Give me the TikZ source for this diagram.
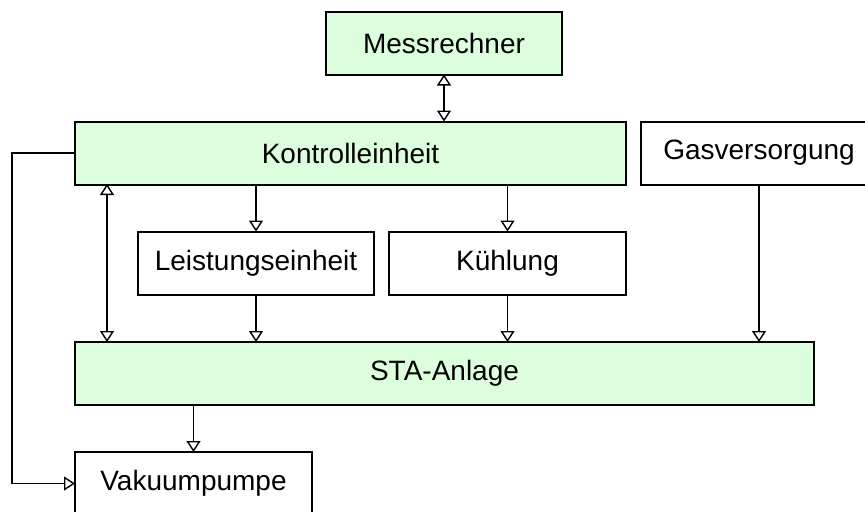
\documentclass[tikz,border=0pt]{standalone}
\usepackage{fontspec}
\setmainfont{Liberation Sans}
\usetikzlibrary{arrows.meta}
\definecolor{boxgreen}{RGB}{221,254,221}
\begin{document}
\begin{tikzpicture}[x=0.5pt, y=-0.5pt,
  block/.style={draw, line width=1pt, inner sep=0pt, outer sep=0pt, minimum height=31.5pt, font=\fontsize{14}{16.8}\selectfont},
  greenblock/.style={block, fill=boxgreen},
  link/.style={line width=0.7pt, -{Triangle[open, length=5.5pt, width=7pt]}},
  duallink/.style={line width=0.7pt, {Triangle[open, length=5.5pt, width=7pt]}-{Triangle[open, length=5.5pt, width=7pt]}}]%
\useasboundingbox (0, 0) rectangle (865, 511);%
\node[greenblock, minimum width=118pt] (mess) at (444, 43) {Messrechner};%
\node[greenblock, minimum width=275.5pt] (kontrolle) at (350.5, 153) {Kontrolleinheit};%
\node[block, minimum width=118pt] (gas) at (759, 153) {Gasversorgung};%
\node[block, minimum width=118pt] (leistung) at (256, 263) {Leistungseinheit};%
\node[block, minimum width=118.5pt] (kuehl) at (507.5, 263) {Kühlung};%
\node[greenblock, minimum width=369.5pt] (sta) at (444.5, 373.5) {STA-Anlage};%
\node[block, minimum width=118.5pt] (vakuum) at (193.5, 483.5) {Vakuumpumpe};%
\coordinate (kleft) at (107, 184);%
\draw[duallink] (mess.south) -- (mess.south |- kontrolle.north);%
\draw[duallink] (kleft) -- (kleft |- sta.north);%
\draw[link] (leistung.north |- kontrolle.south) -- (leistung.north);%
\draw[link] (kuehl.north |- kontrolle.south) -- (kuehl.north);%
\draw[link] (leistung.south) -- (leistung.south |- sta.north);%
\draw[link] (kuehl.south) -- (kuehl.south |- sta.north);%
\draw[link] (gas.south) -- (gas.south |- sta.north);%
\draw[link] (vakuum.north |- sta.south) -- (vakuum.north);%
\draw[link] (kontrolle.west) -- ++(-63, 0) |- (vakuum.west);%
\end{tikzpicture}
\end{document}
